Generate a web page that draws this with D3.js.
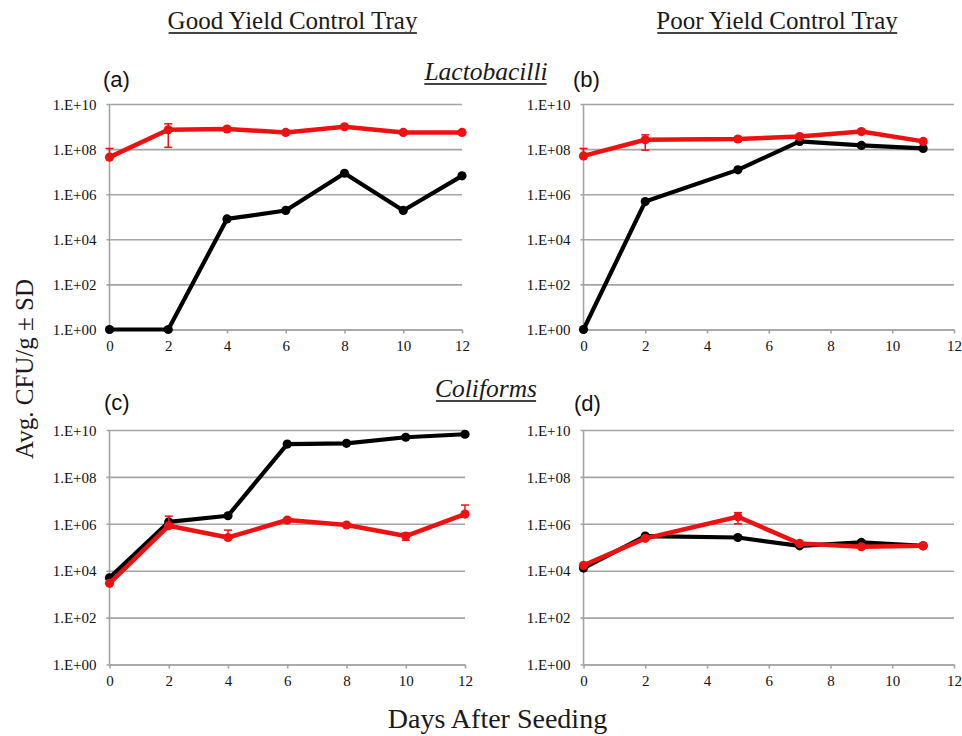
<!DOCTYPE html>
<html><head><meta charset="utf-8">
<script src="https://cdn.jsdelivr.net/npm/d3@7"></script>
<style>body{margin:0;background:#fff;} svg{display:block;}</style>
</head><body>
<svg id="chart" width="962" height="736"></svg>
<script>
// ---- data ----
const daysGood = [0, 2, 4, 6, 8, 10, 12];
const daysPoor = [0, 2, 5, 7, 9, 11];
const yTickValues = [1e0, 1e2, 1e4, 1e6, 1e8, 1e10];
const xTickValues = [0, 2, 4, 6, 8, 10, 12];

const lactoGoodBlack = [1, 1, 8e4, 1.9e5, 8.5e6, 1.9e5, 6.5e6];
const lactoGoodRed   = [4.4e7, 7.2e8, 7.8e8, 5.5e8, 9.8e8, 5.5e8, 5.5e8];
const lactoGoodRedSD = [6.3e7, 6e8, 0, 0, 0, 0, 0];

const lactoPoorBlack = [1, 4.7e5, 1.2e7, 2.2e8, 1.45e8, 1.07e8];
const lactoPoorRed   = [5e7, 2.6e8, 2.8e8, 3.6e8, 6e8, 2.2e8];
const lactoPoorRedSD = [5.7e7, 1.7e8, 6e7, 0, 0, 0];

const coliGoodBlack = [5e3, 1.2e6, 2.2e6, 2.5e9, 2.7e9, 4.9e9, 6.6e9];
const coliGoodRed   = [2.9e3, 8.3e5, 2.6e5, 1.45e6, 8.9e5, 3e5, 2.6e6];
const coliGoodRedSD = [0, 1.3e6, 2.8e5, 0, 0, 1e5, 3.7e6];

const coliPoorBlack = [1.3e4, 3e5, 2.6e5, 1.15e5, 1.6e5, 1.15e5];
const coliPoorRed   = [1.7e4, 2.4e5, 2e6, 1.45e5, 1.05e5, 1.15e5];
const coliPoorRedSD = [0, 0, 1e6, 0, 0, 0];

const panelLetters = ["(a)", "(b)", "(c)", "(d)"];
const colTitles = ["Good Yield Control Tray", "Poor Yield Control Tray"];
const rowTitles = ["Lactobacilli", "Coliforms"];
const yLabel = "Avg. CFU/g \u00b1 SD";
const xLabel = "Days After Seeding";

// ---- layout ----
const svg = d3.select("#chart");
const serif = "'Liberation Serif','Times New Roman',serif";
const sans = "'Liberation Sans',Arial,sans-serif";
const RED = "#ee1111", BLACK = "#000", GRID = "#a4a4a4";

const panels = [
  {letter: panelLetters[0], days: daysGood, black: lactoGoodBlack, red: lactoGoodRed, sd: lactoGoodRedSD,
   left: 109.5, right: 462, top: 104, bottom: 329.5, lx: 103, ly: 87},
  {letter: panelLetters[1], days: daysPoor, black: lactoPoorBlack, red: lactoPoorRed, sd: lactoPoorRedSD,
   left: 583.5, right: 954, top: 104, bottom: 329.5, lx: 573, ly: 87},
  {letter: panelLetters[2], days: daysGood, black: coliGoodBlack, red: coliGoodRed, sd: coliGoodRedSD,
   left: 109.5, right: 465, top: 430, bottom: 664.5, lx: 104, ly: 410},
  {letter: panelLetters[3], days: daysPoor, black: coliPoorBlack, red: coliPoorRed, sd: coliPoorRedSD,
   left: 583.5, right: 954, top: 430, bottom: 664.5, lx: 574, ly: 411}
];

const fmt = v => "1.E+" + String(Math.round(Math.log10(v))).padStart(2, "0");

panels.forEach(p => {
  const x = d3.scaleLinear().domain([0, 12]).range([p.left, p.right]);
  const y = d3.scaleLog().domain([1, 1e10]).range([p.bottom, p.top]);
  const g = svg.append("g");

  // y axis with gridlines
  const yAxis = d3.axisLeft(y).tickValues(yTickValues).tickFormat(fmt)
    .tickSizeInner(-(p.right - p.left + 3)).tickSizeOuter(0).tickPadding(0);
  const ya = g.append("g").attr("transform", `translate(${p.left - 3},0)`).call(yAxis);
  ya.select(".domain").remove();
  ya.selectAll(".tick line").attr("stroke", GRID).attr("stroke-width", 1.6);
  ya.selectAll(".tick text").attr("x", -10).attr("dy", "0.35em").attr("fill", "#111")
    .style("font-family", serif).style("font-size", "15px");

  // y axis line
  g.append("line").attr("x1", p.left).attr("x2", p.left).attr("y1", p.top).attr("y2", p.bottom)
    .attr("stroke", GRID).attr("stroke-width", 1.6);

  // x axis
  const xAxis = d3.axisBottom(x).tickValues(xTickValues).tickFormat(d3.format("d"))
    .tickSizeInner(4).tickSizeOuter(0).tickPadding(7);
  const xa = g.append("g").attr("transform", `translate(0,${p.bottom})`).call(xAxis);
  xa.select(".domain").attr("stroke", GRID).attr("stroke-width", 1.6);
  xa.selectAll(".tick line").attr("stroke", GRID).attr("stroke-width", 1.6);
  xa.selectAll(".tick text").attr("fill", "#111")
    .style("font-family", serif).style("font-size", "15px");

  const line = d3.line().x(d => x(d[0])).y(d => y(d[1]));
  const blackPts = p.days.map((d, i) => [d, p.black[i]]);
  const redPts = p.days.map((d, i) => [d, p.red[i], p.sd[i]]);

  g.append("path").attr("d", line(blackPts)).attr("fill", "none")
    .attr("stroke", BLACK).attr("stroke-width", 4.2).attr("stroke-linejoin", "round");
  g.selectAll(".bm").data(blackPts).join("circle")
    .attr("cx", d => x(d[0])).attr("cy", d => y(d[1])).attr("r", 4.6).attr("fill", BLACK);

  // red error bars
  const eb = g.selectAll(".eb").data(redPts.filter(d => d[2] > 0)).join("g");
  eb.each(function(d) {
    const s = d3.select(this);
    const hi = y(d[1] + d[2]);
    const lo = d[1] - d[2] > 0 ? y(d[1] - d[2]) : y(d[1]);
    const cx = x(d[0]);
    s.append("line").attr("x1", cx).attr("x2", cx).attr("y1", hi).attr("y2", lo)
      .attr("stroke", RED).attr("stroke-width", 1.5);
    s.append("line").attr("x1", cx - 4).attr("x2", cx + 4).attr("y1", hi).attr("y2", hi)
      .attr("stroke", RED).attr("stroke-width", 1.5);
    if (d[1] - d[2] > 0)
      s.append("line").attr("x1", cx - 4).attr("x2", cx + 4).attr("y1", lo).attr("y2", lo)
        .attr("stroke", RED).attr("stroke-width", 1.5);
  });

  g.append("path").attr("d", line(redPts)).attr("fill", "none")
    .attr("stroke", RED).attr("stroke-width", 4.5).attr("stroke-linejoin", "round");
  g.selectAll(".rm").data(redPts).join("circle")
    .attr("cx", d => x(d[0])).attr("cy", d => y(d[1])).attr("r", 4.6).attr("fill", RED);

  g.append("text").attr("x", p.lx).attr("y", p.ly).text(p.letter)
    .attr("font-family", sans).attr("font-size", 22).attr("fill", "#111");
});

// titles
function underlined(txt, cx, by, size, italic) {
  const t = svg.append("text").attr("x", cx).attr("y", by).attr("text-anchor", "middle")
    .attr("font-family", serif).attr("font-size", size).attr("fill", "#1a1a1a")
    .attr("font-style", italic ? "italic" : "normal").text(txt);
  const bb = t.node().getBBox();
  svg.append("line").attr("x1", bb.x + 1).attr("x2", bb.x + bb.width - 1)
    .attr("y1", by + 4).attr("y2", by + 4).attr("stroke", "#444").attr("stroke-width", 1.8);
}
underlined(colTitles[0], 292.5, 29, 25, false);
underlined(colTitles[1], 777, 29, 25, false);
underlined(rowTitles[0], 486, 80, 25.5, true);
underlined(rowTitles[1], 486, 397, 25.5, true);

svg.append("text").attr("transform", "translate(33,369) rotate(-90)").attr("text-anchor", "middle")
  .attr("font-family", serif).attr("font-size", 25).attr("fill", "#1a1a1a").text(yLabel);
svg.append("text").attr("x", 497.5).attr("y", 728).attr("text-anchor", "middle")
  .attr("font-family", serif).attr("font-size", 28).attr("fill", "#1a1a1a").text(xLabel);
</script>
</body></html>
